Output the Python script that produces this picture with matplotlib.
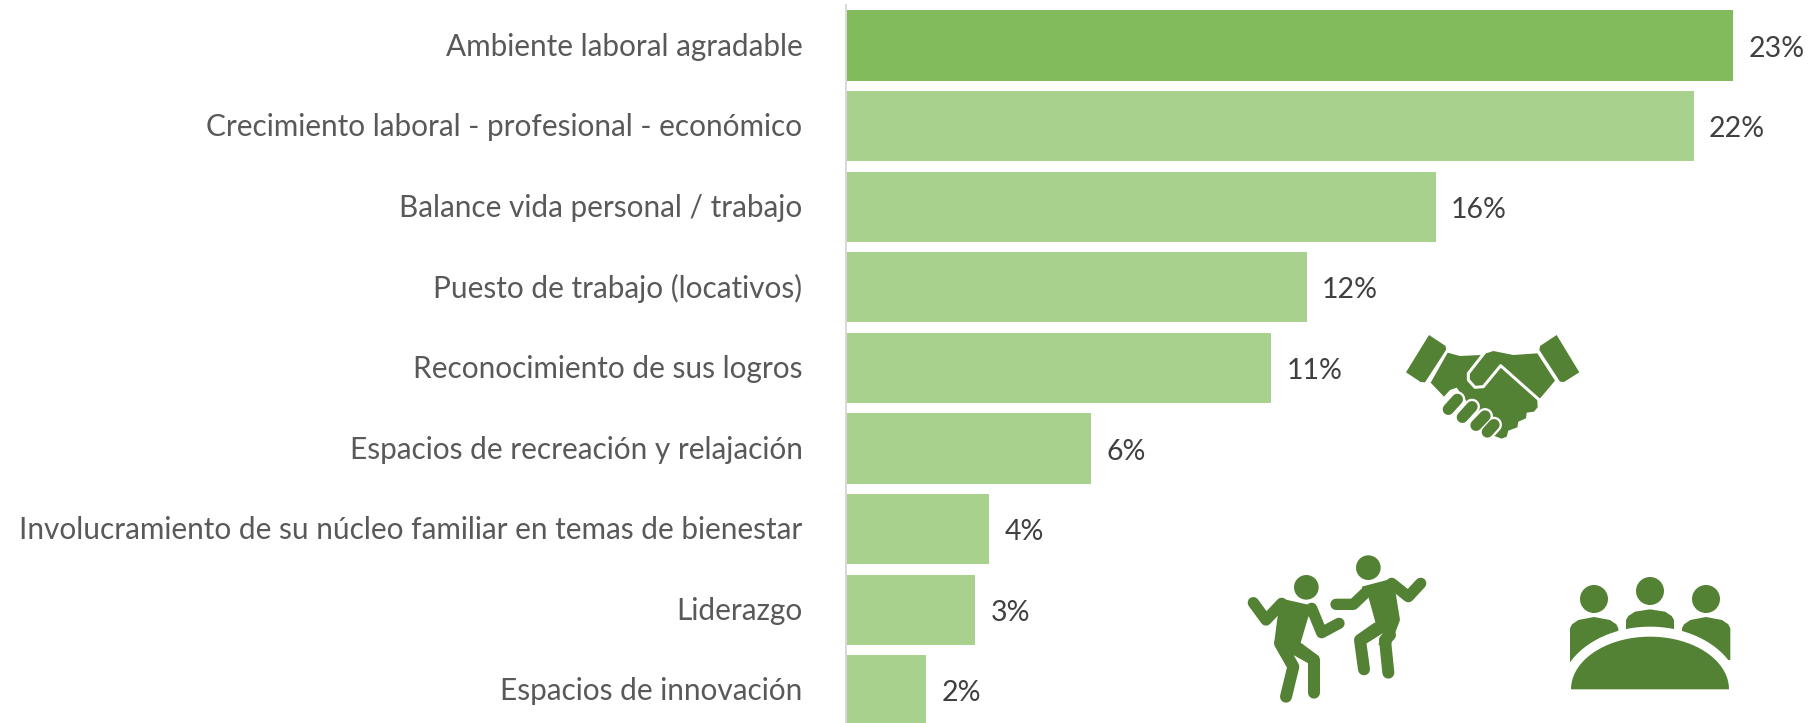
import numpy as np
import matplotlib
matplotlib.use("Agg")
import matplotlib.pyplot as plt
from matplotlib.patches import Polygon, Circle
from matplotlib.transforms import ScaledTranslation

# chart data
categories = ["Ambiente laboral agradable",
              "Crecimiento laboral - profesional - económico",
              "Balance vida personal / trabajo",
              "Puesto de trabajo (locativos)",
              "Reconocimiento de sus logros",
              "Espacios de recreación y relajación",
              "Involucramiento de su núcleo familiar en temas de bienestar",
              "Liderazgo",
              "Espacios de innovación"]
values = [23.03, 22.0, 15.3, 11.95, 11.03, 6.35, 3.7, 3.33, 2.05]
value_labels = ["23%", "22%", "16%", "12%", "11%", "6%", "4%", "3%", "2%"]

DARK_BAR = "#82BB5B"
LIGHT_BAR = "#A9D18E"
ICON = "#548235"
W, H = 1820, 723

plt.rcParams['font.family'] = ['Lato', 'DejaVu Sans']
PX = 0.72  # one pixel in points at dpi 100


# Icon coordinates were measured on 3x crops, so everything is divided by 3 here
def to_px(points, origin):
    return [(origin[0] + x / 3, origin[1] + y / 3) for x, y in points]


def shape(ov, points, origin, color=ICON, z=3):
    ov.add_patch(Polygon(to_px(points, origin), closed=True, fc=color, ec="none", zorder=z))


def stroke(ov, points, origin, width, color=ICON, z=3):
    pts = to_px(points, origin)
    ov.plot([p[0] for p in pts], [p[1] for p in pts], color=color, lw=width / 3 * PX,
            solid_capstyle="round", solid_joinstyle="round", zorder=z)


def dot(ov, x, y, r, origin):
    ov.add_patch(Circle((origin[0] + x / 3, origin[1] + y / 3), r / 3, fc=ICON, ec="none", zorder=3))


def draw_handshake(ov, o):
    shape(ov, [(147, 45), (197, 78), (198, 90), (135, 187), (122, 186), (78, 157)], o)
    shape(ov, [(530, 45), (480, 78), (478, 90), (540, 185), (552, 186), (598, 157)], o)
    body = [(203, 98), (240, 108), (303, 105), (340, 93), (400, 105), (472, 100), (525, 182),
            (482, 233), (472, 240), (473, 262), (462, 275), (440, 278), (438, 295), (415, 305),
            (412, 322), (385, 332), (380, 350), (365, 356), (343, 348), (300, 300), (230, 203),
            (210, 210), (192, 230), (152, 188)]
    shape(ov, body, o)
    stroke(ov, [(312, 100), (265, 160), (265, 180), (285, 202), (310, 200), (362, 137), (478, 240)],
           o, 9, color="white", z=4)
    fingers = [[(205, 268), (232, 238)], [(247, 292), (276, 260)],
               [(288, 316), (315, 288)], [(322, 336), (342, 314)]]
    for f in fingers:
        stroke(ov, f, o, 48, color="white", z=5)
    for f in fingers:
        stroke(ov, f, o, 34, z=6)


def draw_dancers(ov, o):
    dot(ov, 229, 142, 37, o)
    shape(ov, [(150, 175), (248, 197), (232, 240), (210, 315), (268, 350), (235, 370), (190, 345),
               (205, 380), (175, 385), (133, 305)], o)
    stroke(ov, [(70, 188), (108, 240), (155, 190)], o, 34)
    stroke(ov, [(245, 205), (275, 278), (327, 250)], o, 34)
    stroke(ov, [(150, 310), (190, 380), (168, 470)], o, 36)
    stroke(ov, [(205, 325), (252, 360), (252, 458)], o, 36)

    dot(ov, 415, 83, 37, o)
    shape(ov, [(395, 140), (490, 115), (510, 240), (482, 315), (445, 315), (458, 280),
               (410, 310), (375, 295), (437, 250), (415, 170)], o)
    stroke(ov, [(318, 193), (370, 193), (410, 155)], o, 34)
    stroke(ov, [(485, 130), (535, 170), (572, 130)], o, 34)
    stroke(ov, [(440, 265), (390, 300), (402, 388)], o, 36)
    stroke(ov, [(480, 285), (465, 300), (475, 398)], o, 36)


def draw_meeting(ov, o):
    dot(ov, 132, 117, 42, o)
    dot(ov, 300, 93, 42, o)
    dot(ov, 468, 117, 42, o)
    for dx in (0, 336):
        shape(ov, [(60 + dx, 307), (60 + dx, 205), (66 + dx, 193), (85 + dx, 180), (132 + dx, 171),
                   (180 + dx, 180), (199 + dx, 193), (205 + dx, 205), (205 + dx, 300)], o)
    shape(ov, [(228, 300), (228, 180), (235, 168), (255, 155), (300, 148), (345, 155),
               (365, 168), (372, 180), (372, 300)], o)
    t = np.linspace(0, np.pi, 80)
    # white gap round the table, then the table itself
    shape(ov, list(zip(300 + 271 * np.cos(t), 400 - 200 * np.sin(t))), o, color="white", z=4)
    shape(ov, list(zip(300 + 237 * np.cos(t), 388 - 158 * np.sin(t))), o, z=5)


fig = plt.figure(figsize=(W / 100, H / 100), dpi=100)

# axes placed on pixel positions: x 847..1809, y 5..723
ax = fig.add_axes([847 / W, 0, 962 / W, 718 / H])
colors = [DARK_BAR] + [LIGHT_BAR] * (len(values) - 1)
bars = ax.barh(range(len(values)), values, height=0.87, color=colors)
ax.set_xlim(0, 25)
ax.set_ylim(8.405, -0.5025)
ax.set_yticks(range(len(categories)))
ax.set_yticklabels(categories)
ax.tick_params(axis="y", length=0, pad=31.3, labelsize=21.45, labelcolor="#595959")
ax.set_xticks([])
for side in ["top", "right", "bottom"]:
    ax.spines[side].set_visible(False)
ax.spines["left"].set_color("#D9D9D9")
ax.spines["left"].set_linewidth(2 * PX)
ax.spines["left"].set_position(("outward", PX))

# the category labels sit a little higher than the bar centres
up = ScaledTranslation(0, 1.5 / 100, fig.dpi_scale_trans)
for lab in ax.get_yticklabels():
    lab.set_transform(lab.get_transform() + up)
    lab.set_fontsize(21.45)
    lab.set_color("#595959")

texts = ax.bar_label(bars, labels=value_labels, padding=11, fontsize=20.5, color="#404040")
for t in texts:
    t.xyann = (t.xyann[0], -2.2)

# overlay in pixel coordinates for the icons
ov = fig.add_axes([0, 0, 1, 1])
ov.set_xlim(0, W)
ov.set_ylim(H, 0)
ov.axis("off")
ov.patch.set_alpha(0)
draw_handshake(ov, (1380, 320))
draw_dancers(ov, (1230, 540))
draw_meeting(ov, (1550, 560))

fig.savefig("out.png", dpi=100)
